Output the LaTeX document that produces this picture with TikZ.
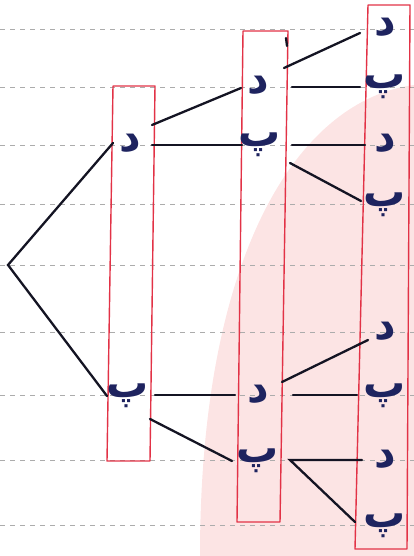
\documentclass[tikz,border=0pt]{standalone}
\usepackage{fontspec}
\newfontfamily\arabicfont[Script=Arabic]{DejaVu Sans}
\TeXXeTstate=1
\definecolor{pinkbg}{RGB}{252,228,228}
\definecolor{boxred}{RGB}{226,50,70}
\definecolor{ink}{RGB}{30,35,95}
\definecolor{pen}{RGB}{20,20,35}
\begin{document}
\begin{tikzpicture}[x=1pt,y=-1pt,
  letter/.style={text=ink, font=\arabicfont\bfseries\fontsize{42}{42}\selectfont, inner sep=0pt, text height=24pt, text depth=10pt, minimum width=30pt},
  dal/.style={letter},
  pe/.style={letter, text height=20pt, text depth=16pt},
  link/.style={pen, line width=2.3pt, line cap=round},
  guide/.style={gray!65, dash pattern=on 5pt off 5pt, line width=0.8pt},
  frame/.style={boxred, line width=1.4pt, line join=round}]
\useasboundingbox (0,0) rectangle (414,556);
% pink background
\fill[pinkbg] (200,556) .. controls (200,250) and (300,100) .. (414,85) -- (414,556) -- cycle;
% dashed ruling
\foreach \y in {29,87,145,204,265,332,395,460,525}
  \draw[guide] (0,\y) -- (414,\y);
% frames
\draw[frame] (113,86) -- (155,86) -- (150,461) -- (107,461) -- cycle;
\draw[frame] (243,31) -- (288,31) -- (280,522) -- (237,522) -- cycle;
\draw[frame] (368,5) -- (410,5) -- (407,549) -- (355,549) -- cycle;
% pen tick
\draw[link] (286,38) -- (287,46);
% nodes
\coordinate (root) at (8,265);
\node[dal] (l1d) at (130,145) {\beginR د\endR};
\node[pe] (l1p) at (128,395) {\beginR پ\endR};
\node[dal] (l2a) at (258,87) {\beginR د\endR};
\node[pe] (l2b) at (260,145) {\beginR پ\endR};
\node[dal] (l2c) at (258,395) {\beginR د\endR};
\node[pe] (l2d) at (258,460) {\beginR پ\endR};
\node[dal] (l3a) at (385,29) {\beginR د\endR};
\node[pe] (l3b) at (385,87) {\beginR پ\endR};
\node[dal] (l3c) at (385,145) {\beginR د\endR};
\node[pe] (l3d) at (385,204) {\beginR پ\endR};
\node[dal] (l3e) at (385,332) {\beginR د\endR};
\node[pe] (l3f) at (385,395) {\beginR پ\endR};
\node[dal] (l3g) at (385,460) {\beginR د\endR};
\node[pe] (l3h) at (385,525) {\beginR پ\endR};
% connectors
\draw[link] ([shift={(-17,-2)}]l1d.center) -- (root) -- ([shift={(-21,1)}]l1p.center);
\draw[link] ([shift={(22,-20)}]l1d.center) -- ([shift={(-17,1)}]l2a.center);
\draw[link] ([shift={(22,0)}]l1d.center) -- ([shift={(-18,0)}]l2b.center);
\draw[link] ([shift={(27,0)}]l1p.center) -- ([shift={(-23,0)}]l2c.center);
\draw[link] ([shift={(22,24)}]l1p.center) -- ([shift={(-26,1)}]l2d.center);
\draw[link] ([shift={(26,-19)}]l2a.center) -- ([shift={(-25,4)}]l3a.center);
\draw[link] ([shift={(34,0)}]l2a.center) -- ([shift={(-25,0)}]l3b.center);
\draw[link] ([shift={(32,0)}]l2b.center) -- ([shift={(-20,0)}]l3c.center);
\draw[link] ([shift={(30,18)}]l2b.center) -- ([shift={(-24,-3)}]l3d.center);
\draw[link] ([shift={(24,-13)}]l2c.center) -- ([shift={(-17,8)}]l3e.center);
\draw[link] ([shift={(35,0)}]l2c.center) -- ([shift={(-28,0)}]l3f.center);
\draw[link] ([shift={(-23,0)}]l3g.center) -- ([shift={(32,0)}]l2d.center) -- ([shift={(-30,-3)}]l3h.center);
\end{tikzpicture}
\end{document}
